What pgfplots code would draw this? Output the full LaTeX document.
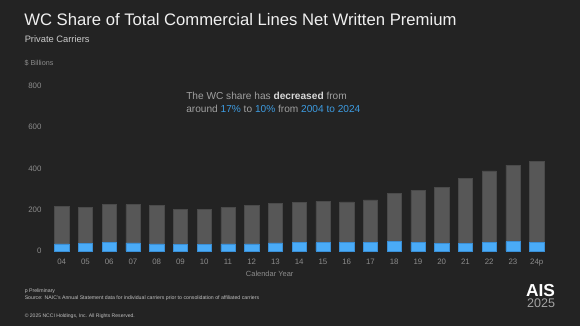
\documentclass[border=0pt]{standalone}
\usepackage{pgfplots}
\pgfplotsset{compat=1.18}
\usepackage{fontspec}
\setmainfont{Liberation Sans}
\definecolor{bg}{HTML}{232323}
\definecolor{barg}{HTML}{575757}
\definecolor{bargedge}{HTML}{4A4A4A}
\definecolor{barb}{HTML}{4AABF7}
\definecolor{barbedge}{HTML}{3A8FD6}
\definecolor{ticktxt}{HTML}{8C8C8C}
\definecolor{anntxt}{HTML}{A0A0A0}
\definecolor{annblue}{HTML}{3D9BE0}
\definecolor{titletxt}{HTML}{F0F0F0}
\begin{document}
\begin{tikzpicture}
\begin{scope}[x=0.75pt,y=0.75pt]
\fill[bg] (0,0) rectangle (580,326);
\node[anchor=base west,inner sep=0,text=titletxt,font=\fontsize{12.5pt}{15pt}\selectfont] at (24,301) {WC Share of Total Commercial Lines Net Written Premium};
\node[anchor=base west,inner sep=0,text=titletxt!85!black,font=\fontsize{7pt}{8.5pt}\selectfont] at (24.5,283.3) {Private Carriers};
\node[anchor=base west,inner sep=0,text=ticktxt,font=\fontsize{5.4pt}{6.5pt}\selectfont] at (24.3,260.3) {\$ Billions};
\node[anchor=base west,inner sep=0,text=anntxt,font=\fontsize{7.6pt}{9pt}\selectfont] at (186,227) {The WC share has \textbf{\textcolor{titletxt!90!black}{decreased}} from};
\node[anchor=base west,inner sep=0,text=anntxt,font=\fontsize{7.6pt}{9pt}\selectfont] at (186,214) {around \textcolor{annblue}{17\%} to \textcolor{annblue}{10\%} from \textcolor{annblue}{2004 to 2024}};
\node[anchor=base,inner sep=0,text=ticktxt,font=\fontsize{5.6pt}{6.5pt}\selectfont] at (269.7,49.3) {Calendar Year};
\node[anchor=base west,inner sep=0,text=titletxt!80!black,font=\fontsize{3.9pt}{4.5pt}\selectfont] at (24.5,34) {p Preliminary};
\node[anchor=base west,inner sep=0,text=titletxt!80!black,font=\fontsize{3.9pt}{4.5pt}\selectfont] at (24.5,27) {Source: NAIC's Annual Statement data for individual carriers prior to consolidation of affiliated carriers};
\node[anchor=base west,inner sep=0,text=titletxt!80!black,font=\fontsize{3.8pt}{4.5pt}\selectfont] at (24.5,9) {\textcopyright\ 2025 NCCI Holdings, Inc. All Rights Reserved.};
\node[anchor=base east,inner sep=0,text=white,font=\fontsize{13pt}{15pt}\selectfont\bfseries] at (555.3,29.8) {AIS};
\node[anchor=base east,inner sep=0,text=ticktxt!80!white,font=\fontsize{9.4pt}{11pt}\selectfont] at (555.3,18.3) {2025};
\end{scope}
\begin{axis}[
  at={(32.925pt,56.25pt)}, anchor=south west,
  scale only axis, width=382.95pt, height=123.75pt,
  xmin=-0.75, xmax=20.75, ymin=0, ymax=800,
  axis line style={draw=none}, major tick length=0pt,
  ytick={0,200,400,600,800},
  xtick={0,...,20},
  xticklabels={04,05,06,07,08,09,10,11,12,13,14,15,16,17,18,19,20,21,22,23,24p},
  tick label style={text=ticktxt,font=\fontsize{5.9pt}{7pt}\selectfont},
  yticklabel style={inner sep=1.6pt},
  xticklabel style={yshift=-2.2pt},
  /pgf/number format/assume math mode=true,
  ybar=0pt, bar width=10.7pt,
]
\addplot[fill=barg,draw=bargedge,line width=0.4pt,bar shift=0pt] coordinates {
(0,215) (1,212) (2,227) (3,225) (4,222) (5,202) (6,202) (7,210) (8,222) (9,230)
(10,236) (11,241) (12,238) (13,248) (14,281) (15,294) (16,309) (17,353) (18,388) (19,416) (20,435)};
\addplot[fill=barb,draw=barbedge,line width=0.4pt,bar shift=0pt] coordinates {
(0,35) (1,38) (2,40) (3,39) (4,34) (5,31) (6,31) (7,34) (8,35) (9,39)
(10,40) (11,40) (12,40) (13,40) (14,45) (15,42) (16,37) (17,37) (18,42) (19,45) (20,42)};
\end{axis}
\end{tikzpicture}
\end{document}
